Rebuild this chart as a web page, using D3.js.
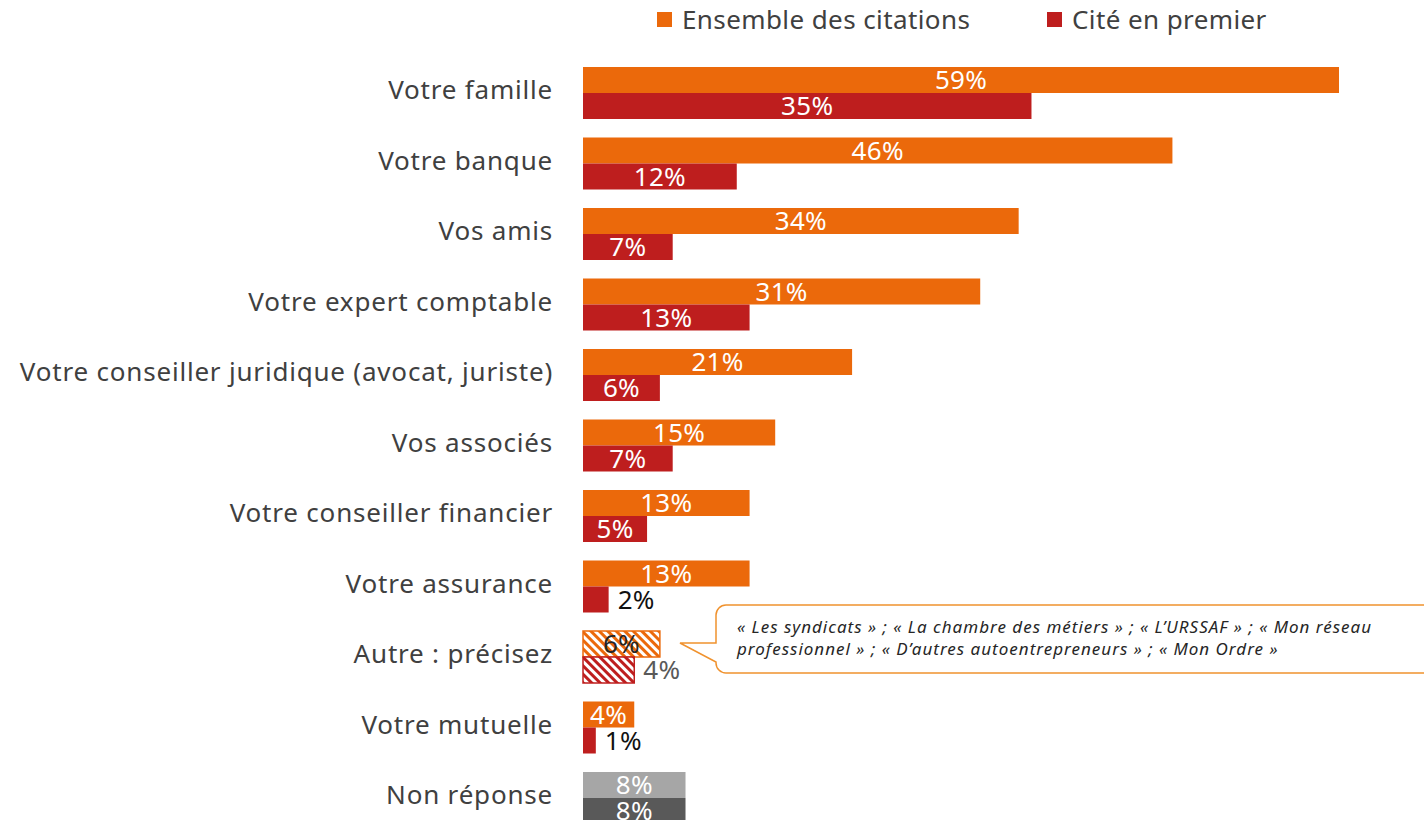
<!DOCTYPE html>
<html>
<head>
<meta charset="utf-8">
<script src="https://cdn.jsdelivr.net/npm/d3@7/dist/d3.min.js"></script>
<style>
  html, body { margin: 0; padding: 0; background: #fff; }
  svg { display: block; }
  text { font-family: "Noto Sans", Lato, sans-serif; }
</style>
</head>
<body>
<svg id="chart" width="1424" height="820"></svg>
<script>
// Sources de conseil citées (en %)
const categories = [
  "Votre famille",
  "Votre banque",
  "Vos amis",
  "Votre expert comptable",
  "Votre conseiller juridique (avocat, juriste)",
  "Vos associés",
  "Votre conseiller financier",
  "Votre assurance",
  "Autre : précisez",
  "Votre mutuelle",
  "Non réponse"
];
const ensembleValues = [59, 46, 34, 31, 21, 15, 13, 13, 6, 4, 8];
const premierValues  = [35, 12, 7, 13, 6, 7, 5, 2, 4, 1, 8];
const seriesNames = ["Ensemble des citations", "Cité en premier"];
const autreDetail = [
  "« Les syndicats » ; « La chambre des métiers » ; « L’URSSAF » ; « Mon réseau",
  "professionnel » ; « D’autres autoentrepreneurs » ; « Mon Ordre »"
];

const ORANGE = "#EB690B", RED = "#BE1E1E", LGREY = "#A6A6A6", DGREY = "#595959";

const svg = d3.select("#chart");

// Hatch patterns for the "Autre" row
const defs = svg.append("defs");
[["hatch-orange", ORANGE], ["hatch-red", RED]].forEach(([id, col]) => {
  const p = defs.append("pattern")
    .attr("id", id).attr("patternUnits", "userSpaceOnUse")
    .attr("width", 6).attr("height", 6)
    .attr("patternTransform", "rotate(-45)");
  p.append("rect").attr("width", 6).attr("height", 6).attr("fill", "#fff");
  p.append("rect").attr("width", 3).attr("height", 6).attr("fill", col);
});

const x0 = 583;
const x = d3.scaleLinear().domain([0, 59]).range([x0, 1339]);
const y = d3.scaleBand().domain(categories).range([67, 67 + 70.5 * 11]).paddingInner(0);
const barH = 26;

const rows = categories.map((c, i) => ({ c, all: ensembleValues[i], first: premierValues[i] }));

// Category labels
svg.append("g").selectAll("text").data(rows).join("text")
  .attr("x", 553)
  .attr("y", d => y(d.c) + barH)
  .attr("dy", "0.24em")
  .attr("text-anchor", "end")
  .attr("font-size", 26)
  .attr("letter-spacing", 0.8)
  .attr("fill", "#404040")
  .text(d => d.c);

function fillFor(d, series) {
  if (d.c === "Autre : précisez") return series === 0 ? "url(#hatch-orange)" : "url(#hatch-red)";
  if (d.c === "Non réponse") return series === 0 ? LGREY : DGREY;
  return series === 0 ? ORANGE : RED;
}

const bars = svg.append("g");
[0, 1].forEach(s => {
  bars.selectAll(null).data(rows).join("rect")
    .attr("x", x0)
    .attr("y", d => y(d.c) + s * barH)
    .attr("width", d => x(s === 0 ? d.all : d.first) - x0)
    .attr("height", barH)
    .attr("fill", d => fillFor(d, s))
    .attr("stroke", d => d.c === "Autre : précisez" ? (s === 0 ? ORANGE : RED) : "none")
    .attr("stroke-width", 1.5);
});

// Value labels: "Ensemble" labels sit inside the bar; "Cité en premier"
// labels below 5% move past the bar end.
const labels = svg.append("g").attr("font-size", 26).attr("letter-spacing", 0.3);
[0, 1].forEach(s => {
  labels.selectAll(null).data(rows).join("text")
    .each(function (d) {
      const v = s === 0 ? d.all : d.first;
      const end = x(v);
      const t = d3.select(this).text(v + "%")
        .attr("y", y(d.c) + s * barH + 22);
      const w = this.getComputedTextLength();
      const isAutre = d.c === "Autre : précisez";
      if (s === 0 || v >= 5) {
        if (w + 4 <= end - x0) {
          t.attr("x", (x0 + end) / 2).attr("text-anchor", "middle");
        } else {
          t.attr("x", end).attr("text-anchor", "end");
        }
        t.attr("fill", isAutre ? "#262626" : "#fff");
      } else {
        t.attr("x", end + 9).attr("text-anchor", "start")
          .attr("fill", isAutre ? "#595959" : "#111");
      }
    });
});

// Legend
const legend = svg.append("g");
const legItems = [
  { name: seriesNames[0], col: ORANGE, x: 657 },
  { name: seriesNames[1], col: RED, x: 1047 }
];
legItems.forEach(it => {
  legend.append("rect").attr("x", it.x).attr("y", 12).attr("width", 15).attr("height", 15).attr("fill", it.col);
  legend.append("text").attr("x", it.x + 25).attr("y", 29)
    .attr("font-size", 26).attr("letter-spacing", 0.4).attr("fill", "#404040").text(it.name);
});

// Callout for "Autre"
const bx = 716, by = 605, bw = 740, bh = 68, r = 10;
const tipX = 680, tipY = 643;
const callout = d3.path();
callout.moveTo(bx + r, by);
callout.lineTo(bx + bw, by);
callout.lineTo(bx + bw, by + bh);
callout.lineTo(bx + r, by + bh);
callout.arcTo(bx, by + bh, bx, by + bh - r, r);
callout.lineTo(bx, 662);
callout.lineTo(tipX, tipY);
callout.lineTo(bx, tipY);
callout.lineTo(bx, by + r);
callout.arcTo(bx, by, bx + r, by, r);
callout.closePath();
svg.append("path").attr("d", callout.toString())
  .attr("fill", "#fff").attr("stroke", "#F0922E").attr("stroke-width", 1.5);

svg.append("g").selectAll("text").data(autreDetail).join("text")
  .attr("x", 737).attr("y", (d, i) => 633 + i * 22)
  .attr("font-size", 17).attr("letter-spacing", 1)
  .attr("font-style", "italic").attr("fill", "#262626")
  .text(d => d);
</script>
</body>
</html>
